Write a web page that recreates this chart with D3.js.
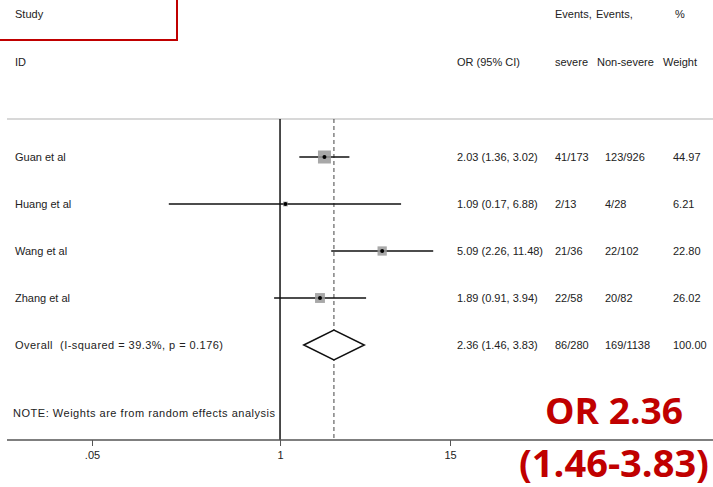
<!DOCTYPE html>
<html>
<head>
<meta charset="utf-8">
<script src="https://cdn.jsdelivr.net/npm/d3@7"></script>
<style>
  html, body { margin: 0; padding: 0; background: #fff; }
  svg { display: block; font-family: "Liberation Sans", Arial, sans-serif; }
</style>
</head>
<body>
<svg id="chart" width="713" height="487"></svg>
<script>
// study data
const studies = ["Guan et al", "Huang et al", "Wang et al", "Zhang et al"];
const oddsRatios = [2.03, 1.09, 5.09, 1.89];
const ciLow = [1.36, 0.17, 2.26, 0.91];
const ciHigh = [3.02, 6.88, 11.48, 3.94];
const eventsSevere = ["41/173", "2/13", "21/36", "22/58"];
const eventsNonSevere = ["123/926", "4/28", "22/102", "20/82"];
const weights = [44.97, 6.21, 22.80, 26.02];

// pooled estimate
const overallLabel = "Overall  (I-squared = 39.3%, p = 0.176)";
const overallOR = 2.36;
const overallLow = 1.46;
const overallHigh = 3.83;
const overallSevere = "86/280";
const overallNonSevere = "169/1138";
const overallWeight = 100.00;

const tickValues = [0.05, 1, 15];
const tickLabels = [".05", "1", "15"];

const svg = d3.select("#chart");

const x = d3.scaleLog().domain([0.05, 15]).range([92, 450]);
const y = d3.scaleLinear().domain([0, 4]).range([157, 345]);
const boxSize = d3.scaleSqrt().domain([0, d3.max(weights)]).range([0, 13]);

const fmt = d3.format(".2f");
const orText = (o, l, h) => `${fmt(o)} (${fmt(l)}, ${fmt(h)})`;

const topY = 119, axisY = 440;
const txt = "#222";

// red highlight box round the header
svg.append("rect")
  .attr("x", -2).attr("y", -10)
  .attr("width", 179).attr("height", 50)
  .attr("fill", "none")
  .attr("stroke", "#c00000")
  .attr("stroke-width", 2);

// headers
const headers = [
  {t: "Study", x: 15, y: 18},
  {t: "ID", x: 15, y: 66},
  {t: "Events,", x: 555, y: 18},
  {t: "Events,", x: 596, y: 18},
  {t: "%", x: 675, y: 18},
  {t: "OR (95% CI)", x: 457, y: 66},
  {t: "severe", x: 555, y: 66},
  {t: "Non-severe", x: 597, y: 66},
  {t: "Weight", x: 663, y: 66}
];
svg.selectAll(".hdr")
  .data(headers)
  .enter()
  .append("text")
  .attr("class", "hdr")
  .attr("x", d => d.x)
  .attr("y", d => d.y)
  .attr("font-size", 11)
  .attr("fill", txt)
  .text(d => d.t);

// top rule
svg.append("line")
  .attr("x1", 7).attr("x2", 713)
  .attr("y1", topY).attr("y2", topY)
  .attr("stroke", "#d8d8d8")
  .attr("stroke-width", 2);

// null line and overall dashed line
svg.append("line")
  .attr("x1", x(1)).attr("x2", x(1))
  .attr("y1", topY).attr("y2", axisY)
  .attr("stroke", "#111")
  .attr("stroke-width", 1.5);

svg.append("line")
  .attr("x1", x(overallOR)).attr("x2", x(overallOR))
  .attr("y1", topY).attr("y2", axisY)
  .attr("stroke", "#444")
  .attr("stroke-width", 1)
  .attr("stroke-dasharray", "4,3");

// study rows
const rows = studies.map((s, i) => ({
  name: s, or: oddsRatios[i], lo: ciLow[i], hi: ciHigh[i],
  sev: eventsSevere[i], non: eventsNonSevere[i], w: weights[i], i: i
}));

const row = svg.selectAll(".row")
  .data(rows)
  .enter()
  .append("g")
  .attr("class", "row");

row.append("line")
  .attr("x1", d => x(d.lo))
  .attr("x2", d => x(d.hi))
  .attr("y1", d => y(d.i))
  .attr("y2", d => y(d.i))
  .attr("stroke", "#111")
  .attr("stroke-width", 1.5);

row.append("rect")
  .attr("x", d => x(d.or) - boxSize(d.w) / 2)
  .attr("y", d => y(d.i) - boxSize(d.w) / 2)
  .attr("width", d => boxSize(d.w))
  .attr("height", d => boxSize(d.w))
  .attr("fill", "#999")
  .attr("fill-opacity", 0.85);

row.append("circle")
  .attr("cx", d => x(d.or))
  .attr("cy", d => y(d.i))
  .attr("r", 2)
  .attr("fill", "#000");

const cols = [
  {x: 15, f: d => d.name},
  {x: 457, f: d => orText(d.or, d.lo, d.hi)},
  {x: 555, f: d => d.sev},
  {x: 605, f: d => d.non},
  {x: 673, f: d => fmt(d.w)}
];
cols.forEach(c => {
  row.append("text")
    .attr("x", c.x)
    .attr("y", d => y(d.i) + 4)
    .attr("font-size", 11)
    .attr("fill", txt)
    .text(c.f);
});

// overall diamond
const oy = y(4);
const dh = 15;
svg.append("path")
  .attr("d", `M${x(overallLow)},${oy} L${x(overallOR)},${oy - dh} L${x(overallHigh)},${oy} L${x(overallOR)},${oy + dh} Z`)
  .attr("fill", "#fff")
  .attr("stroke", "#111")
  .attr("stroke-width", 1.5);

const overallCols = [
  {x: 15, t: overallLabel, len: 208},
  {x: 457, t: orText(overallOR, overallLow, overallHigh)},
  {x: 555, t: overallSevere},
  {x: 605, t: overallNonSevere},
  {x: 673, t: fmt(overallWeight)}
];
svg.selectAll(".ov")
  .data(overallCols)
  .enter()
  .append("text")
  .attr("class", "ov")
  .attr("x", d => d.x)
  .attr("y", oy + 4)
  .attr("font-size", 11)
  .attr("fill", txt)
  .attr("textLength", d => d.len || null)
  .style("white-space", "pre")
  .text(d => d.t);

// note
svg.append("text")
  .attr("x", 13)
  .attr("y", 417)
  .attr("font-size", 11)
  .attr("fill", txt)
  .attr("textLength", 262)
  .text("NOTE: Weights are from random effects analysis");

// x axis
svg.append("line")
  .attr("x1", 7).attr("x2", 713)
  .attr("y1", axisY).attr("y2", axisY)
  .attr("stroke", "#555")
  .attr("stroke-width", 1.5);

const axis = d3.axisBottom(x)
  .tickValues(tickValues)
  .tickFormat((d, i) => tickLabels[i])
  .tickSize(6)
  .tickPadding(5);

const gAxis = svg.append("g")
  .attr("transform", `translate(0,${axisY})`)
  .call(axis);
gAxis.select(".domain").remove();
gAxis.selectAll(".tick line").attr("stroke", "#555");
gAxis.selectAll(".tick text")
  .attr("font-size", 11)
  .attr("fill", txt)
  .attr("font-family", "Liberation Sans, Arial, sans-serif");

// red annotation
svg.append("text")
  .attr("x", 545)
  .attr("y", 424)
  .attr("font-family", "Open Sans, sans-serif")
  .attr("font-weight", 700)
  .attr("font-size", 35)
  .attr("fill", "#c00000")
  .attr("textLength", 138)
  .attr("lengthAdjust", "spacingAndGlyphs")
  .text(`OR ${fmt(overallOR)}`);

svg.append("text")
  .attr("x", 519)
  .attr("y", 477)
  .attr("font-family", "Open Sans, sans-serif")
  .attr("font-weight", 700)
  .attr("font-size", 38)
  .attr("fill", "#c00000")
  .attr("textLength", 190)
  .attr("lengthAdjust", "spacingAndGlyphs")
  .text(`(${fmt(overallLow)}-${fmt(overallHigh)})`);
</script>
</body>
</html>
